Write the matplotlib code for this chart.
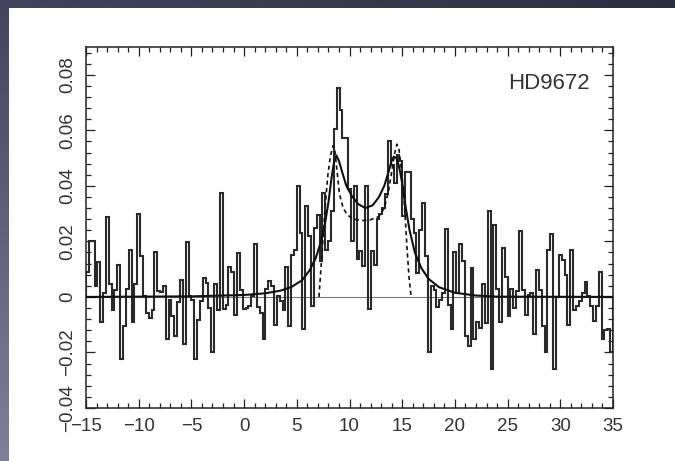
import matplotlib
matplotlib.use('Agg')
import matplotlib.pyplot as plt
import numpy as np
from matplotlib.ticker import MultipleLocator

plt.rcParams['font.family'] = ['Liberation Sans', 'DejaVu Sans']

# ---------- DATA ----------
v_start = -15.0
v_stop = 35.0

# observed spectrum, one value per channel (left to right)
flux = [
    0.009, 0.020, 0.020, 0.004, 0.0125, -0.009, 0.0014, 0.0288, 0.0048, -0.0046,
    0.0024, 0.0116, -0.0223, -0.0103, 0.0029, 0.017, -0.009, 0.0048, 0.0299, 0.0146,
    0.0002, -0.0058, -0.0076, -0.0046, 0.016, 0.002, 0.0017, 0.0038, -0.0151, -0.0012,
    -0.0067, -0.0141, -0.0019, 0.0062, -0.0171, 0.0197, 0.0005,
    -0.001,
    -0.0225, -0.0082, -0.0016, 0.0068, 0.005, -0.004, -0.020, 0.0048, -0.0046, 0.0376,
    -0.0043, -0.0028, 0.0108, 0.0089, -0.0064, 0.0158, 0.0024, -0.0043, -0.004, -0.0031,
    0.0005, 0.0192, -0.0036, -0.0058, -0.0151, 0.0029, 0.0059, 0.004, -0.010, 0.0002,
    -0.0016, -0.0046, 0.0108, -0.0106, 0.0152, 0.017, 0.040,
    0.023, -0.0115, 0.0326, 0.022, -0.0034, 0.025, 0.0296, 0.0128, 0.0374, 0.017,
    0.020, 0.031, 0.0605, 0.0752, 0.0674, 0.0572, 0.0572, 0.039, 0.020, 0.0398,
    0.0135, 0.0165, 0.011, 0.0398, -0.0045, 0.0164, 0.0116, 0.028, 0.030, 0.032,
    0.037, 0.056, 0.0475, 0.041, 0.051, 0.049, 0.029, 0.045, 0.045, 0.028,
    0.023, 0.0085, 0.024, 0.0338, 0.0146, -0.020, 0.0038,
    0.0026, -0.0036, -0.001, 0.0014, 0.0245, -0.003, -0.0115, 0.016, 0.0014, 0.019,
    0.0128, -0.0141, -0.0177, 0.0104, -0.0153, -0.009, -0.0111, 0.0048, -0.0093,
    0.031, -0.0258, 0.0258, 0.0028, -0.0092, 0.0177, 0.007, -0.007, 0.003, -0.004,
    0.002, 0.0239, 0.0026, -0.0064, 0.0008, 0.0014, -0.0135, 0.0098, 0.0024, -0.0106,
    -0.020, 0.017, 0.0228, -0.026, 0.0, 0.0152, 0.0134, 0.008, -0.010, 0.0168,
    -0.0046, -0.0034, -0.0016, 0.0014, 0.0053, 0.0005, -0.0034, -0.0088, -0.0034, 0.0089,
    -0.0151, -0.012, -0.0115, -0.020,
]

# solid fit
fit_v = [-15, -5, 0, 2, 3.5, 4.5, 5.5, 6.2, 6.8, 7.3, 7.7, 8.0, 8.3, 8.55, 8.75,
         9.0, 9.3, 9.7, 10.2, 10.8, 11.5, 12.2, 12.8, 13.3, 13.7, 14.0, 14.2,
         14.45, 14.7, 15.0, 15.3, 15.7, 16.2, 16.8, 17.5, 18.5, 20, 22, 24, 35]
fit_flux = [0, 0.0002, 0.0007, 0.0013, 0.0023, 0.0036, 0.006, 0.0095, 0.014, 0.020,
            0.027, 0.034, 0.043, 0.049, 0.051, 0.049, 0.045, 0.040, 0.0365, 0.0335,
            0.032, 0.033, 0.036, 0.040, 0.045, 0.049, 0.0505, 0.050, 0.047, 0.041,
            0.033, 0.024, 0.016, 0.0105, 0.0065, 0.0035, 0.0015, 0.0005, 0.0001, 0]

# dashed model
model_v = [7.1, 7.25, 7.45, 7.7, 7.95, 8.2, 8.45, 8.6, 8.8, 9.05, 9.4, 9.8, 10.4,
           11.2, 12.0, 12.8, 13.3, 13.7, 14.0, 14.3, 14.5, 14.7, 14.95, 15.2,
           15.45, 15.65, 15.85]
model_flux = [0, 0.008, 0.019, 0.033, 0.044, 0.051, 0.0545, 0.053, 0.046, 0.037,
              0.032, 0.0295, 0.028, 0.0275, 0.0278, 0.029, 0.032, 0.038, 0.045,
              0.052, 0.055, 0.053, 0.045, 0.034, 0.018, 0.007, 0]

x_ticks = [-15, -10, -5, 0, 5, 10, 15, 20, 25, 30, 35]
x_labels = ['\u221215', '\u221210', '\u22125', '0', '5', '10', '15', '20', '25', '30', '35']
y_ticks = [-0.04, -0.02, 0, 0.02, 0.04, 0.06, 0.08]
y_labels = ['\u22120.04', '\u22120.02', '0', '0.02', '0.04', '0.06', '0.08']
star = 'HD9672'

edges = np.linspace(v_start, v_stop, len(flux) + 1)

# ---------- FIGURE ----------
W, H = 675, 461
fig = plt.figure(figsize=(W / 100, H / 100), dpi=100)

# slide-like backdrop: dark gradient border, white panel
yy, xx = np.mgrid[0:H, 0:W]
t = (yy / H)[..., None]
s = (xx / W)[..., None]
tl = np.array([66, 68, 92]); tr = np.array([44, 46, 64])
bl = np.array([128, 129, 150]); br = np.array([92, 94, 112])
img = (1 - t) * (1 - s) * tl + (1 - t) * s * tr + t * (1 - s) * bl + t * s * br
img[9:, 9:] = 255
bg = fig.add_axes([0, 0, 1, 1])
bg.imshow(img.astype(np.uint8), aspect='auto')
bg.axis('off')

ax = fig.add_axes([86 / W, 53 / H, 527 / W, 361 / H])
ax.set_facecolor('white')

# ---------- SPECTRUM ----------
ax.axhline(0, color='#777777', linewidth=0.8, zorder=1)
ax.stairs(flux, edges, color='#2a2a2a', linewidth=1.5, zorder=2)
ax.plot(fit_v, fit_flux, color='#111111', linewidth=1.5, zorder=3)
ax.plot(model_v, model_flux, color='#111111', linewidth=1.2,
        linestyle=(0, (2.5, 2)), zorder=3)

ax.set_xlim(v_start, v_stop)
ax.set_ylim(-0.04, 0.09)

# ---------- AXES ----------
ax.set_xticks(x_ticks, x_labels)
ax.set_yticks(y_ticks, y_labels)
ax.xaxis.set_minor_locator(MultipleLocator(1))
ax.yaxis.set_minor_locator(MultipleLocator(0.004))
ax.tick_params(which='both', direction='in', top=True, right=True,
               width=0.9, color='#222222', labelcolor='#333333', labelsize=13.5)
ax.tick_params(which='major', length=6.5)
ax.tick_params(which='minor', length=3.5)
ax.tick_params(axis='x', pad=7.5)
ax.tick_params(axis='y', pad=7, labelrotation=90)
for lab in ax.get_yticklabels():
    lab.set_va('center')
for sp in ax.spines.values():
    sp.set_linewidth(1.1)
    sp.set_color('#222222')

ax.text(0.956, 0.90, star, transform=ax.transAxes, ha='right', va='center',
        fontsize=16, color='#333333')

fig.savefig('out.png', dpi=100)
